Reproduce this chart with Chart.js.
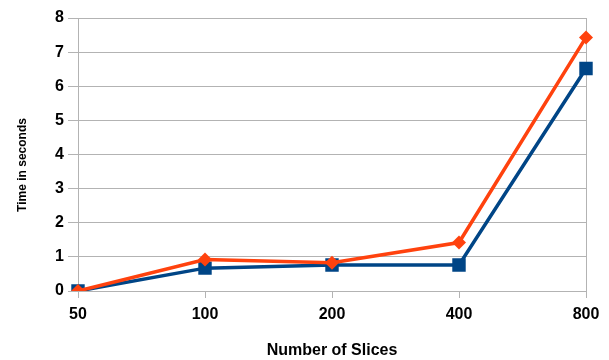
<!DOCTYPE html>
<html>
<head>
<meta charset="utf-8">
<script src="https://cdn.jsdelivr.net/npm/chart.js@4"></script>
<style>
html,body{margin:0;padding:0;background:#fff;}
#wrap{width:609px;height:360px;}
</style>
</head>
<body>
<div id="wrap"><canvas id="c" width="609" height="360"></canvas></div>
<script>
const categories = ['50', '100', '200', '400', '800'];
const seriesBlue = [0, 0.67, 0.76, 0.76, 6.52];
const seriesOrange = [0, 0.92, 0.83, 1.42, 7.43];
const yTicks = [0, 1, 2, 3, 4, 5, 6, 7, 8];
const yTitle = 'Time in seconds';
const xTitle = 'Number of Slices';

const gray = '#b3b3b3';
const font = 'Liberation Sans, Arial, sans-serif';

const yTitlePlugin = {
  id: 'yTitle',
  afterDraw(chart) {
    const c = chart.ctx;
    c.save();
    c.translate(23, 165);
    c.rotate(-Math.PI / 2);
    c.font = 'bold 12px ' + font;
    c.fillStyle = '#000';
    c.textAlign = 'center';
    c.textBaseline = 'middle';
    c.fillText(yTitle, 0, 0);
    c.restore();
  }
};

new Chart(document.getElementById('c'), {
  type: 'line',
  data: {
    labels: categories,
    datasets: [
      {
        label: 'Series 2',
        data: seriesOrange,
        borderColor: '#ff420e',
        backgroundColor: '#ff420e',
        borderWidth: 3.5,
        pointStyle: 'rectRot',
        pointRadius: 7,
        pointHoverRadius: 7,
        pointBorderWidth: 0,
        tension: 0,
        order: 0
      },
      {
        label: 'Series 1',
        data: seriesBlue,
        borderColor: '#004586',
        backgroundColor: '#004586',
        borderWidth: 3.5,
        pointStyle: 'rect',
        pointRadius: 9.5,
        pointHoverRadius: 9.5,
        pointBorderWidth: 0,
        tension: 0,
        order: 1
      }
    ]
  },
  plugins: [yTitlePlugin],
  options: {
    responsive: false,
    animation: false,
    layout: { padding: { left: 0, right: 23, top: 18, bottom: 0 } },
    plugins: { legend: { display: false }, tooltip: { enabled: false } },
    scales: {
      x: {
        offset: false,
        grid: {
          color: ctx => (ctx.index === 0 || ctx.index === categories.length - 1) ? gray : 'rgba(0,0,0,0)',
          tickColor: gray,
          tickLength: 7,
          lineWidth: 1
        },
        border: { display: false },
        ticks: {
          color: '#000',
          font: { family: font, size: 16, weight: 'bold' },
          padding: 7,
          maxRotation: 0
        },
        title: {
          display: true,
          text: xTitle,
          color: '#000',
          font: { family: font, size: 16, weight: 'bold' },
          padding: { top: 13, bottom: 0 }
        },
        afterFit: s => { s.height = 69; }
      },
      y: {
        min: 0,
        max: 8,
        afterBuildTicks: s => { s.ticks = yTicks.map(v => ({ value: v })); },
        grid: { color: gray, tickLength: 10, lineWidth: 1 },
        border: { display: false },
        ticks: {
          color: '#000',
          font: { family: font, size: 16, weight: 'bold' },
          padding: 4
        },
        title: { display: false },
        afterFit: s => { s.width = 78; }
      }
    }
  }
});
</script>
</body>
</html>
